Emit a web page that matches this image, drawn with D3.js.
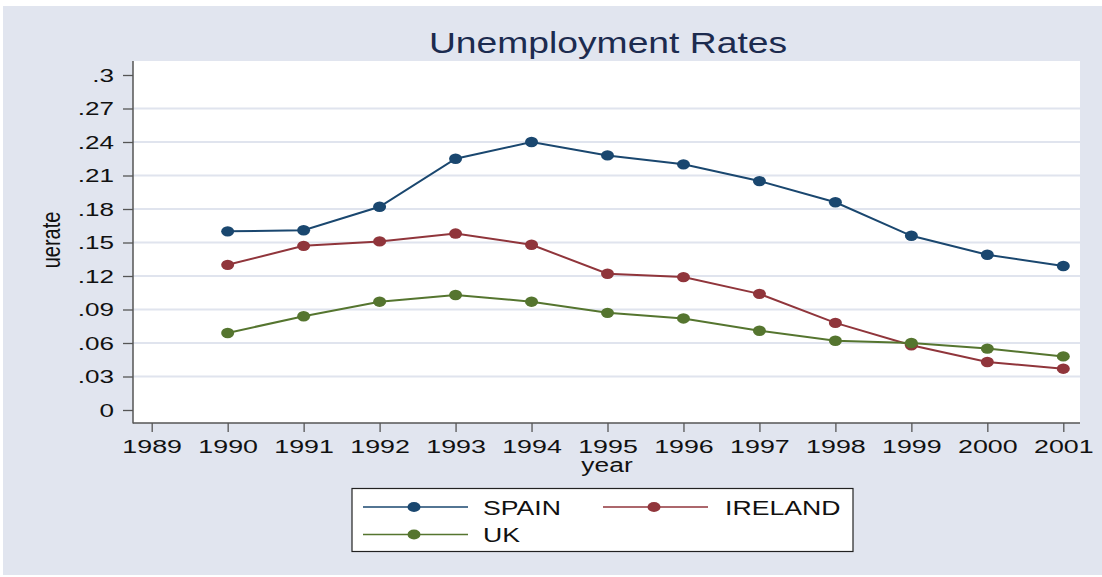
<!DOCTYPE html>
<html>
<head>
<meta charset="utf-8">
<script src="https://cdn.jsdelivr.net/npm/d3@7"></script>
<style>
  body { margin: 0; background: #fff; }
  text { font-family: "Liberation Sans", Arial, sans-serif; }
</style>
</head>
<body>
<svg id="chart" width="1102" height="577"></svg>
<script>
var years = [1990, 1991, 1992, 1993, 1994, 1995, 1996, 1997, 1998, 1999, 2000, 2001];
var spain = [0.160, 0.161, 0.182, 0.225, 0.240, 0.228, 0.220, 0.205, 0.186, 0.156, 0.139, 0.129];
var ireland = [0.130, 0.147, 0.151, 0.158, 0.148, 0.122, 0.119, 0.104, 0.078, 0.058, 0.043, 0.037];
var uk = [0.069, 0.084, 0.097, 0.103, 0.097, 0.087, 0.082, 0.071, 0.062, 0.060, 0.055, 0.048];
var xTicks = [1989, 1990, 1991, 1992, 1993, 1994, 1995, 1996, 1997, 1998, 1999, 2000, 2001];
var yTicks = [0, 0.03, 0.06, 0.09, 0.12, 0.15, 0.18, 0.21, 0.24, 0.27, 0.3];
var seriesNames = ['SPAIN', 'IRELAND', 'UK'];
var seriesColors = ['#1a476f', '#90353b', '#55752f'];

// the picture is wider than tall, so text gets stretched sideways
var tickStretch = 1.45;
var svg = d3.select('#chart');
var plot = { left: 133, right: 1080, top: 61, bottom: 423 };

var x = d3.scaleLinear().domain([1989, 2001]).range([151.7, 1063.3]);
var y = d3.scaleLinear().domain([0, 0.3]).range([410, 75]);

// backgrounds
svg.append('rect').attr('x', 3).attr('y', 6).attr('width', 1099).attr('height', 569).attr('fill', '#e1e5ef');
svg.append('rect')
  .attr('x', plot.left).attr('y', plot.top)
  .attr('width', plot.right - plot.left).attr('height', plot.bottom - plot.top)
  .attr('fill', '#fff');

// grid
svg.append('g').selectAll('line')
  .data(yTicks.filter(function(d) { return d > 0 && d < 0.3; }))
  .join('line')
  .attr('x1', plot.left).attr('x2', plot.right)
  .attr('y1', function(d) { return y(d); }).attr('y2', function(d) { return y(d); })
  .attr('stroke', '#e0e4ee').attr('stroke-width', 2);

function fmt(d) {
  if (d === 0) return '0';
  return d3.format('.2~f')(d).replace(/^0/, '');
}

var yAxis = svg.append('g')
  .attr('transform', 'translate(' + plot.left + ',0)')
  .call(d3.axisLeft(y).tickValues(yTicks).tickFormat(fmt).tickSize(10).tickPadding(0));
yAxis.select('.domain').remove();
yAxis.selectAll('line').attr('stroke', '#555').attr('stroke-width', 1.3);
yAxis.selectAll('text')
  .attr('x', -19 / tickStretch).attr('dy', '0.36em')
  .attr('transform', 'scale(' + tickStretch + ',1)')
  .style('font-size', '18px').attr('fill', '#111');

var xAxis = svg.append('g')
  .attr('transform', 'translate(0,' + plot.bottom + ')')
  .call(d3.axisBottom(x).tickValues(xTicks).tickFormat(d3.format('d')).tickSize(9));
xAxis.select('.domain').remove();
xAxis.selectAll('line').attr('stroke', '#555').attr('stroke-width', 1.3);
xAxis.selectAll('text')
  .attr('y', 30.5).attr('dy', 0)
  .attr('transform', 'scale(' + tickStretch + ',1)')
  .style('font-size', '18.5px').attr('fill', '#111');

// axis lines
svg.append('line').attr('x1', plot.left).attr('x2', plot.left)
  .attr('y1', plot.top).attr('y2', plot.bottom + 0.6)
  .attr('stroke', '#555').attr('stroke-width', 1.5);
svg.append('line').attr('x1', plot.left).attr('x2', plot.right)
  .attr('y1', plot.bottom).attr('y2', plot.bottom)
  .attr('stroke', '#555').attr('stroke-width', 1.5);

// series
var allSeries = [spain, ireland, uk];
var line = d3.line()
  .x(function(d, i) { return x(years[i]); })
  .y(function(d) { return y(d); });

allSeries.forEach(function(vals, k) {
  svg.append('path')
    .datum(vals)
    .attr('d', line)
    .attr('fill', 'none')
    .attr('stroke', seriesColors[k])
    .attr('stroke-width', 2);
  svg.append('g').selectAll('ellipse')
    .data(vals)
    .join('ellipse')
    .attr('cx', function(d, i) { return x(years[i]); })
    .attr('cy', function(d) { return y(d); })
    .attr('rx', 6.5).attr('ry', 5.2)
    .attr('fill', seriesColors[k]);
});

// titles
svg.append('text')
  .attr('transform', 'translate(608,53) scale(1.285,1)')
  .attr('text-anchor', 'middle')
  .style('font-size', '29px')
  .attr('fill', '#1c2b4f')
  .text('Unemployment Rates');

svg.append('text')
  .attr('transform', 'translate(607,472) scale(1.32,1)')
  .attr('text-anchor', 'middle')
  .style('font-size', '20px')
  .attr('fill', '#111')
  .text('year');

svg.append('text')
  .attr('transform', 'translate(60,240) rotate(-90) scale(1,1.25)')
  .attr('text-anchor', 'middle')
  .style('font-size', '20px')
  .attr('fill', '#111')
  .text('uerate');

// legend
var legend = svg.append('g');
legend.append('rect')
  .attr('x', 352).attr('y', 488.5).attr('width', 501).attr('height', 63)
  .attr('fill', '#fff').attr('stroke', '#222').attr('stroke-width', 1.2);

var legendPos = [[363, 507], [603, 507], [363, 534.5]];
var legendItems = legend.selectAll('g.item')
  .data(seriesNames)
  .join('g')
  .attr('class', 'item')
  .attr('transform', function(d, i) { return 'translate(' + legendPos[i][0] + ',' + legendPos[i][1] + ')'; });

legendItems.append('line')
  .attr('x1', 0).attr('x2', 105).attr('y1', 0).attr('y2', 0)
  .attr('stroke', function(d, i) { return seriesColors[i]; })
  .attr('stroke-width', 1.6);
legendItems.append('ellipse')
  .attr('cx', 51).attr('cy', 0).attr('rx', 6.5).attr('ry', 5)
  .attr('fill', function(d, i) { return seriesColors[i]; });
legendItems.append('text')
  .attr('transform', function(d, i) { return 'translate(' + (i === 1 ? 122 : 120) + ',7.5) scale(1.3,1)'; })
  .style('font-size', '20.5px')
  .attr('fill', '#111')
  .text(function(d) { return d; });
</script>
</body>
</html>
